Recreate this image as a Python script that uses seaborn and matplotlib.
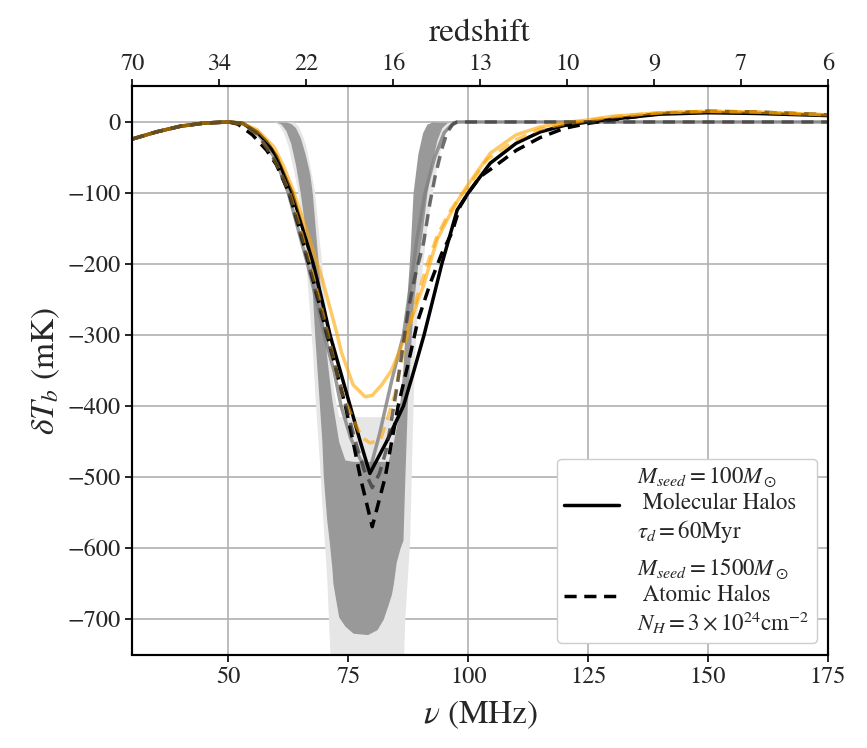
import matplotlib
matplotlib.use("Agg")
import matplotlib.pyplot as plt
import seaborn as sns
import pandas as pd

# === Courbes ===
# Molecular halos, M_seed = 100 Msun (noir plein)
mol_nu = [30, 35, 40, 45, 50, 53, 56, 58, 60, 63.3, 65.5, 67.7, 69.5, 71.2, 73.3, 75.4, 77.5,
          79.5, 83, 86.5, 88.7, 90.8, 92.1, 94.5, 97.7, 100, 104.6, 110, 115, 120, 125, 130,
          140, 150, 160, 175]
mol_T = [-24, -14, -6, -1.5, 0, -2, -14, -28, -48, -100, -150, -200, -250, -300, -350, -400,
         -450, -495, -450, -400, -350, -300, -265, -200, -124, -100, -58, -30, -14, -5, 0, 4,
         11, 13, 12, 9]

# Atomic halos, M_seed = 1500 Msun (noir tirets)
atom_nu = [30, 35, 40, 45, 50, 52, 55, 58, 60, 62.7, 64.8, 66.8, 68.7, 70.6, 72.5, 74.4, 76,
           77.5, 80, 82.7, 85.4, 87.5, 89.5, 92.1, 94.5, 96.6, 98.3, 100, 102.5, 104.6, 110,
           115, 120, 125, 130, 140, 150, 160, 175]
atom_T = [-24, -14, -6, -1.5, 0, -3, -18, -40, -60, -100, -150, -200, -250, -300, -350, -400,
          -450, -500, -570, -500, -400, -340, -280, -227, -185, -156, -119, -100, -77, -67, -40,
          -22, -9, -2, 3, 12, 15, 14, 10]

# Variantes orange
mol2_nu = [30, 35, 40, 45, 50, 52.5, 56, 59.5, 61.5, 63.5, 67, 69.6, 72.6, 73.6, 76, 78.5, 80,
           82, 84, 85.8, 88, 90.7, 93.5, 95.6, 97.7, 99.7, 104.6, 110, 115, 120, 125, 130, 140,
           150, 160, 175]
mol2_T = [-24, -14, -6, -1.5, 0, -1, -11, -35, -62, -96, -166, -222, -297, -325, -370, -387,
          -385, -370, -350, -321, -280, -230, -166, -138, -112, -91, -44, -18, -7, -1, 3, 8, 13,
          15, 14, 10]

atom2_nu = [30, 35, 40, 45, 50, 53, 56, 58, 60, 62.8, 65, 67, 69, 70.8, 72.5, 74, 75.5, 76.8,
            78, 79.5, 81.7, 83.3, 84.8, 85.8, 87.5, 89.4, 91.5, 93.5, 96, 98.3, 100, 103.9, 110,
            115, 120, 125, 130, 140, 150, 160, 175]
atom2_T = [-24, -14, -6, -1.5, 0, -3, -17, -36, -58, -100, -150, -200, -250, -300, -350, -387,
           -410, -430, -445, -452, -448, -415, -382, -345, -295, -245, -200, -161, -128, -105,
           -92, -53, -25, -10, -3, 2, 7, 13, 15, 14, 10]

# Variantes grises (retour a zero vers 97 MHz)
gmol_nu = [30, 35, 40, 45, 50, 53, 56, 58, 60, 62.5, 64.5, 66.5, 68.3, 70, 72, 73.5, 75.5,
           77.5, 79.5, 81.5, 84.1, 86.5, 88, 89.3, 91, 93, 95, 97, 98, 100, 125, 150, 175]
gmol_T = [-24, -14, -6, -1.5, 0, -2, -16, -32, -55, -100, -150, -200, -250, -300, -350, -400,
          -445, -475, -490, -440, -363, -300, -230, -166, -100, -50, -15, -1, 0, 0, 0, 0, 0]

gatom_nu = [30, 35, 40, 45, 50, 53, 56, 58, 60, 62.6, 64.7, 66.7, 68.6, 70.5, 72.5, 74.5, 76.5,
            78.3, 80, 81.5, 83, 85, 87.5, 89, 90.7, 92, 93.1, 94.5, 95.6, 96.7, 97.7, 100, 125,
            150, 175]
gatom_T = [-24, -14, -6, -1.5, 0, -2, -17, -36, -57, -100, -150, -200, -250, -300, -350, -400,
           -450, -490, -515, -495, -460, -380, -265, -215, -170, -115, -77, -38, -15, -4, 0, 0,
           0, 0, 0]

# Bandes grises (enveloppes)
light_nu = [58, 59.5, 60.5, 61.5, 62.5, 63.5, 64.5, 65.5, 66.2, 66.5, 67.5, 68, 69, 69.5,
            70.5, 71, 71.5, 72, 73, 74, 78, 84, 85, 86, 86.5, 86.8, 87.8, 88.3, 88.8, 89.5,
            90.5, 91.5, 92.5, 93.5, 94.5, 95.5, 96.5, 97.5, 100]
light_hi = [0, 0, 0, 0, 0, 0, -5, -20, -35, -45, -80, -100, -170, -200, -280, -315, -350,
            -380, -415, -415, -415, -415, -415, -400, -370, -350, -270, -200, -130, -70, -30,
            -10, -2, 0, 0, 0, 0, 0, 0]
light_lo = [0, 0, -4, -15, -35, -65, -100, -150, -200, -230, -320, -380, -480, -540, -640,
            -720, -800, -900, -1000, -1000, -1000, -1000, -1000, -900, -760, -697, -589, -450,
            -330, -250, -200, -140, -100, -60, -30, -12, -4, -1, 0]

dark_nu = [58, 60, 61, 62, 63, 64, 65, 66, 66.7, 67, 67.5, 68, 68.5, 69, 69.5, 69.8, 70.5,
           71, 71.6, 71.8, 73, 74.3, 76, 79, 81, 82.3, 83.3, 84, 84.4, 85, 85.8, 86.4, 86.8,
           87.3, 87.9, 88.5, 89.5, 90.5, 91.4, 92.5, 93.5, 94.5, 95.6, 96.5, 98]
dark_hi = [0, 0, 0, 0, -2, -8, -22, -45, -65, -75, -100, -140, -180, -220, -260, -280, -330,
           -360, -392, -400, -450, -476, -478, -478, -478, -478, -478, -460, -450, -430, -392,
           -345, -300, -240, -180, -100, -45, -15, -3, 0, 0, 0, 0, 0, 0]
dark_lo = [0, 0, -3, -12, -30, -60, -100, -150, -180, -200, -240, -300, -350, -400, -450,
           -500, -560, -589, -630, -650, -697, -710, -720, -722, -715, -700, -680, -665, -650,
           -620, -600, -589, -500, -400, -330, -260, -200, -150, -100, -55, -25, -8, -1, 0, 0]

# Axe redshift (haut)
z_labels = ["70", "34", "22", "16", "13", "10", "9", "7", "6"]

# === Style ===
sns.set_style("whitegrid")
plt.rcParams["font.family"] = ["STIXGeneral", "DejaVu Serif"]
plt.rcParams["mathtext.fontset"] = "stix"
plt.rcParams["axes.unicode_minus"] = True

COLOR_LIGHT = "#e6e6e6"
COLOR_DARK = "#999999"
COLOR_ORANGE = "#ffa500"
DASH = (0, (3.5, 2.2))

fig = plt.figure(figsize=(8.67, 7.48), dpi=100)
ax = fig.add_axes([0.1527, 0.125, 0.8023, 0.7594])

ax.fill_between(light_nu, light_hi, light_lo, color=COLOR_LIGHT, lw=0, zorder=1)
ax.fill_between(dark_nu, dark_hi, dark_lo, color=COLOR_DARK, lw=0, zorder=1.5)


def draw(nu, T, **kw):
    df = pd.DataFrame({"nu": nu, "T": T})
    sns.lineplot(data=df, x="nu", y="T", ax=ax, estimator=None, sort=False, **kw)


draw(gmol_nu, gmol_T, color="gray", lw=2.5, alpha=0.8, zorder=2)
draw(mol_nu, mol_T, color="black", lw=2.5, zorder=3,
     label="$M_{seed}=100M_\\odot$\n Molecular Halos\n$\\tau_d=60$Myr")
draw(atom_nu, atom_T, color="black", lw=2.5, ls=DASH, zorder=3,
     label="$M_{seed}=1500M_\\odot$\n Atomic Halos\n$N_H=3\\times10^{24}$cm$^{-2}$")
draw(mol2_nu, mol2_T, color=COLOR_ORANGE, lw=2.5, alpha=0.6, zorder=4)
draw(atom2_nu, atom2_T, color=COLOR_ORANGE, lw=2.5, ls=DASH, alpha=0.6, zorder=4)
draw(gatom_nu, gatom_T, color="#333333", lw=2.5, ls=DASH, alpha=0.7, zorder=5)

ax.set_xlim(30, 175)
ax.set_ylim(-750, 50)
ax.set_xticks([50, 75, 100, 125, 150, 175])
ax.set_yticks(range(-700, 1, 100))
ax.grid(True, color="#b0b0b0", lw=1.2)
ax.set_axisbelow(True)
for s in ax.spines.values():
    s.set_color("black")
    s.set_linewidth(1.5)
ax.tick_params(labelsize=17.5, direction="out", length=5, width=1.2, color="black",
               bottom=True, left=True)
ax.set_xlabel(r"$\nu$ (MHz)", fontsize=24, labelpad=8)
ax.set_ylabel(r"$\delta T_b$ (mK)", fontsize=24, labelpad=4)

top = ax.twiny()
top.set_xlim(ax.get_xlim())
top.set_xticks([30 + i * (175 - 30) / 8 for i in range(9)])
top.set_xticklabels(z_labels)
top.grid(False)
top.tick_params(labelsize=17.5, direction="out", length=5, width=1.2, color="black", top=True)
top.set_xlabel("redshift", fontsize=24, labelpad=9)
for s in top.spines.values():
    s.set_color("black")
    s.set_linewidth(1.5)

leg = ax.legend(loc="lower right", fontsize=16.5, handlelength=2.4, frameon=True,
                fancybox=True, borderpad=0.3, labelspacing=0.5, handletextpad=0.8)
leg.get_frame().set_edgecolor("#cccccc")
leg.get_frame().set_alpha(1.0)
leg.set_zorder(10)

fig.savefig("out.png", dpi=100)
